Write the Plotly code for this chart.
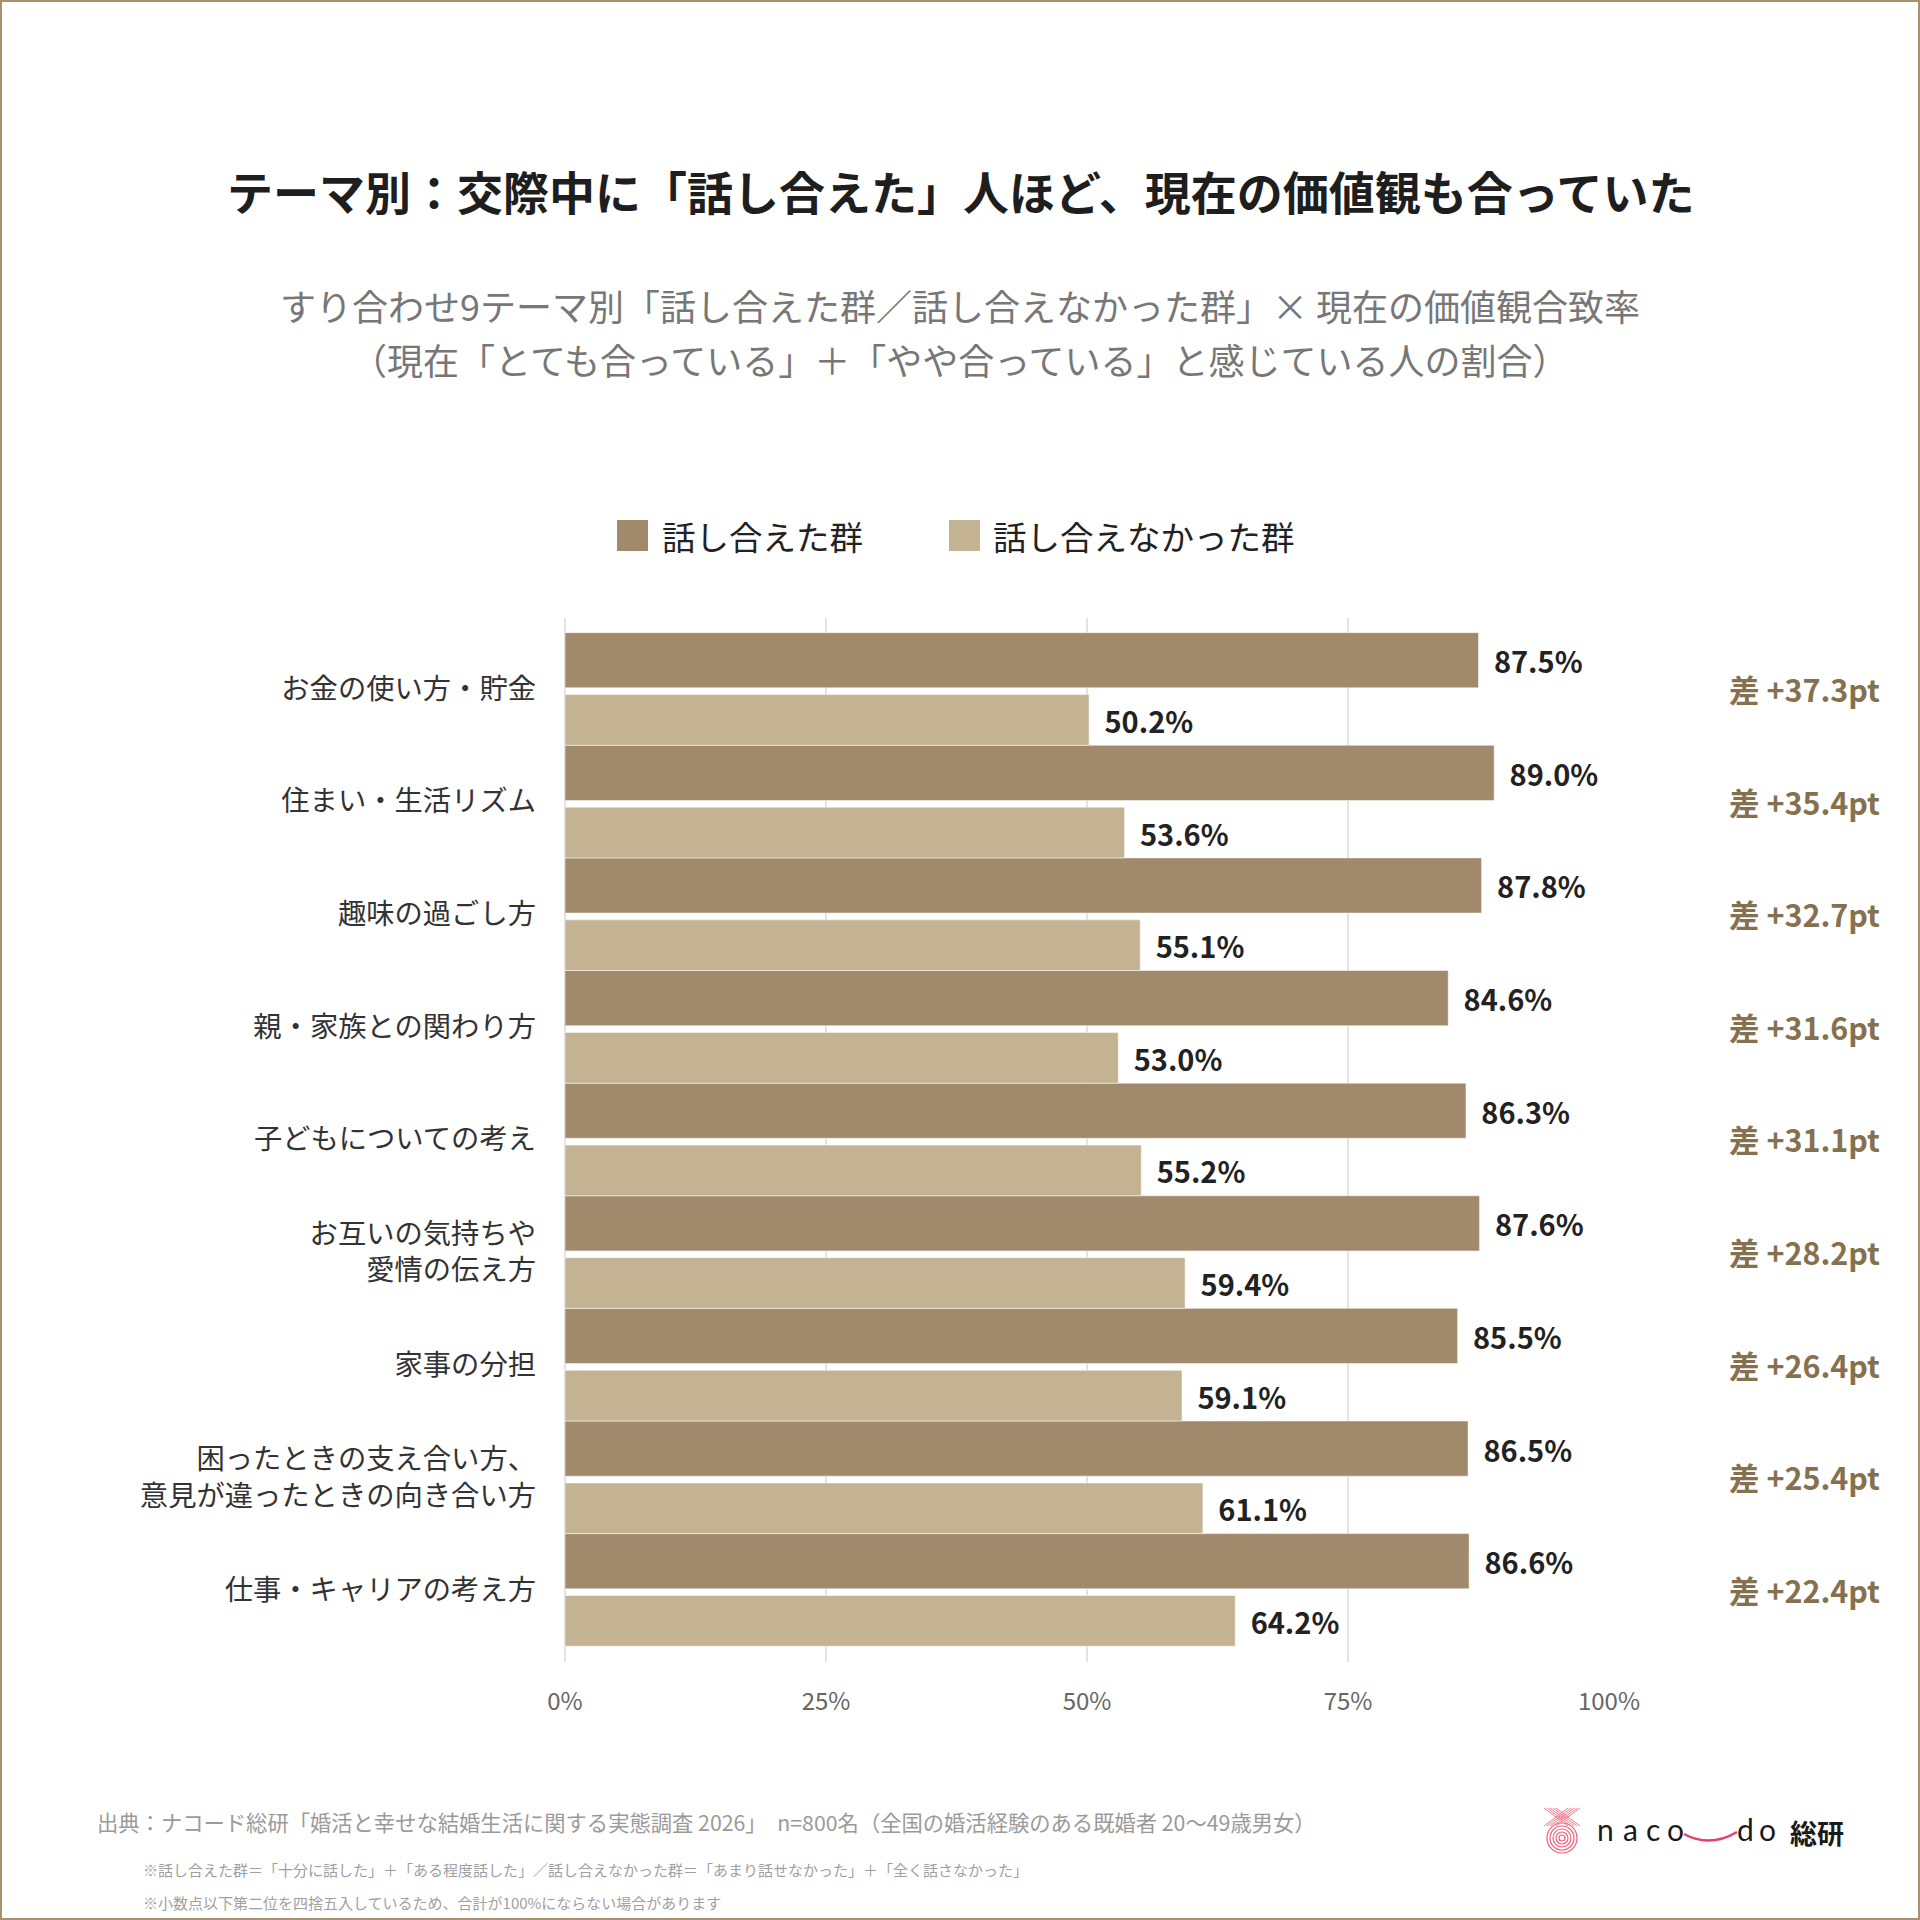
import plotly.graph_objects as go

# テーマ（上から順）
themes = [
    "お金の使い方・貯金",
    "住まい・生活リズム",
    "趣味の過ごし方",
    "親・家族との関わり方",
    "子どもについての考え",
    "お互いの気持ちや<br>愛情の伝え方",
    "家事の分担",
    "困ったときの支え合い方、<br>意見が違ったときの向き合い方",
    "仕事・キャリアの考え方",
]
talked = [87.5, 89.0, 87.8, 84.6, 86.3, 87.6, 85.5, 86.5, 86.6]
not_talked = [50.2, 53.6, 55.1, 53.0, 55.2, 59.4, 59.1, 61.1, 64.2]
series_names = ["話し合えた群", "話し合えなかった群"]
x_ticks = [0, 25, 50, 75, 100]
x_ticklabels = ["0%", "25%", "50%", "75%", "100%"]

DARK = "#a1896c"
LIGHT = "#c4b392"
DIFF_COLOR = "#86714f"
FONT = "Noto Sans CJK JP"

W, H = 1920, 1920
L, R, T, B = 565, 311, 618, 258
PW = W - L - R
PH = H - T - B


def px(x):
    return (x - L) / PW


def py(y):
    return (H - B - y) / PH


fig = go.Figure()
fig.add_trace(go.Bar(
    y=themes, x=talked, name=series_names[0], orientation="h",
    offset=-0.5, width=0.49,
    marker=dict(color=DARK, line=dict(color="rgba(255,255,255,0.5)", width=1)),
    texttemplate="\u00a0\u2009%{x:.1f}%", textposition="outside",
    textfont=dict(family=FONT, size=29, color="#222222", weight="bold"),
    cliponaxis=False, showlegend=False,
))
fig.add_trace(go.Bar(
    y=themes, x=not_talked, name=series_names[1], orientation="h",
    offset=0.05, width=0.45,
    marker=dict(color=LIGHT, line=dict(color="rgba(255,255,255,0.5)", width=1)),
    texttemplate="\u00a0\u2009%{x:.1f}%", textposition="outside",
    textfont=dict(family=FONT, size=29, color="#222222", weight="bold"),
    cliponaxis=False, showlegend=False,
))

annotations = []
shapes = []

# 差のラベル
for t, a, b in zip(themes, talked, not_talked):
    annotations.append(dict(
        x=px(1882), xref="paper", y=t, yref="y", xanchor="right", yanchor="middle",
        text=f"<b>差 +{a - b:.1f}pt</b>", showarrow=False,
        font=dict(family=FONT, size=30.5, color=DIFF_COLOR),
    ))

# タイトル・サブタイトル
annotations.append(dict(
    x=0.5 * (px(0) + px(W)), y=py(190), xref="paper", yref="paper",
    text="<b>テーマ別：交際中に「話し合えた」人ほど、現在の価値観も合っていた</b>",
    showarrow=False, xanchor="center", yanchor="middle",
    font=dict(family=FONT, size=46, color="#1e1e1e"),
))
annotations.append(dict(
    x=0.5 * (px(0) + px(W)), y=py(305), xref="paper", yref="paper",
    text="すり合わせ9テーマ別「話し合えた群／話し合えなかった群」× 現在の価値観合致率",
    showarrow=False, xanchor="center", yanchor="middle",
    font=dict(family=FONT, size=36, color="#777777"),
))
annotations.append(dict(
    x=0.5 * (px(0) + px(W)), y=py(359), xref="paper", yref="paper",
    text="（現在「とても合っている」＋「やや合っている」と感じている人の割合）",
    showarrow=False, xanchor="center", yanchor="middle",
    font=dict(family=FONT, size=36, color="#777777"),
))

# 凡例
for sx, tx, name, col in [(617, 660, series_names[0], DARK), (949, 991, series_names[1], LIGHT)]:
    shapes.append(dict(type="rect", xref="paper", yref="paper",
                       x0=px(sx), x1=px(sx + 31), y0=py(551), y1=py(520),
                       fillcolor=col, line=dict(width=0)))
    annotations.append(dict(
        x=px(tx), y=py(535), xref="paper", yref="paper", text=name,
        showarrow=False, xanchor="left", yanchor="middle",
        font=dict(family=FONT, size=33.5, color="#222222"),
    ))

# 出典・注記
annotations.append(dict(
    x=px(95), y=py(1821), xref="paper", yref="paper",
    text="出典：ナコード総研「婚活と幸せな結婚生活に関する実態調査 2026」　n=800名（全国の婚活経験のある既婚者 20〜49歳男女）",
    showarrow=False, xanchor="left", yanchor="middle",
    font=dict(family=FONT, size=21.3, color="#9a9a9a"),
))
annotations.append(dict(
    x=px(141), y=py(1869), xref="paper", yref="paper",
    text="※話し合えた群＝「十分に話した」＋「ある程度話した」／話し合えなかった群＝「あまり話せなかった」＋「全く話さなかった」",
    showarrow=False, xanchor="left", yanchor="middle",
    font=dict(family=FONT, size=15, color="#a0a0a0"),
))
annotations.append(dict(
    x=px(141), y=py(1902), xref="paper", yref="paper",
    text="※小数点以下第二位を四捨五入しているため、合計が100%にならない場合があります",
    showarrow=False, xanchor="left", yanchor="middle",
    font=dict(family=FONT, size=15, color="#a0a0a0"),
))

# ロゴ（簡略）
for r in [15, 12, 9, 6, 3]:
    shapes.append(dict(type="circle", xref="paper", yref="paper",
                       x0=px(1562 - r), x1=px(1562 + r), y0=py(1838 + r), y1=py(1838 - r),
                       line=dict(color="#f0607a", width=1.2)))
for d in [-6, -3, 0, 3, 6]:
    shapes.append(dict(type="line", xref="paper", yref="paper",
                       x0=px(1550 + d), y0=py(1808), x1=px(1574 + d), y1=py(1826),
                       line=dict(color="#f27a8c", width=1)))
    shapes.append(dict(type="line", xref="paper", yref="paper",
                       x0=px(1574 + d), y0=py(1808), x1=px(1550 + d), y1=py(1826),
                       line=dict(color="#f27a8c", width=1)))
for ch, cx in [("n", 1605), ("a", 1630), ("c", 1653), ("o", 1675), ("d", 1745), ("o", 1767)]:
    annotations.append(dict(
        x=px(cx), y=py(1829), xref="paper", yref="paper", text=ch,
        showarrow=False, xanchor="center", yanchor="middle",
        font=dict(family="Lato", size=30, color="#1a1a1a"),
    ))
shapes.append(dict(
    type="path", xref="paper", yref="paper",
    path=f"M {px(1684)} {py(1834)} Q {px(1710)} {py(1848)} {px(1737)} {py(1832)}",
    line=dict(color="#ec3d68", width=2.5),
))
annotations.append(dict(
    x=px(1788), y=py(1832), xref="paper", yref="paper", text="<b>総研</b>",
    showarrow=False, xanchor="left", yanchor="middle",
    font=dict(family=FONT, size=27, color="#1a1a1a"),
))

# 枠線
shapes.append(dict(type="rect", xref="paper", yref="paper",
                   x0=px(1), x1=px(W - 1), y0=py(H - 1), y1=py(1),
                   line=dict(color="#a8916d", width=2), fillcolor="rgba(0,0,0,0)"))

fig.update_layout(
    width=W, height=H,
    margin=dict(l=L, r=R, t=T, b=B),
    paper_bgcolor="white", plot_bgcolor="white",
    barmode="overlay",
    font=dict(family=FONT),
    annotations=annotations,
    shapes=shapes,
    xaxis=dict(
        range=[0, 100], tickvals=x_ticks, ticktext=x_ticklabels,
        showgrid=True, gridcolor="#e3e3e3", gridwidth=1.5,
        zeroline=True, zerolinecolor="#e3e3e3", zerolinewidth=1.5,
        showline=False, ticks="", ticklabelstandoff=23,
        tickfont=dict(family=FONT, size=24, color="#666666"),
        fixedrange=True,
    ),
    yaxis=dict(
        type="category", categoryorder="array", categoryarray=themes,
        range=[8.64, -0.63],
        showgrid=False, zeroline=False, showline=False, ticks="",
        ticklabelstandoff=28,
        tickfont=dict(family=FONT, size=28.3, color="#333333"),
        fixedrange=True,
    ),
)

fig.write_html("out.html", config={"displayModeBar": False},
               post_script="document.body.style.margin='0';")
